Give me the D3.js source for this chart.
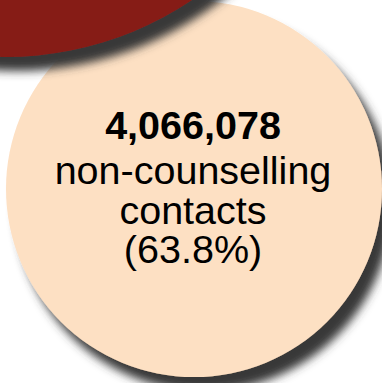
<!DOCTYPE html>
<html>
<head>
<meta charset="utf-8">
<script src="https://cdn.jsdelivr.net/npm/d3@7"></script>
<style>
  html, body { margin: 0; padding: 0; background: #ffffff; overflow: hidden; }
  svg { display: block; }
</style>
</head>
<body>
<script>
// Contact breakdown shown as overlapping bubbles
const bubbleNames  = ["counselling contacts", "non-counselling contacts"];
const bubbleCounts = [2307085, 4066078];
const bubbleShares = [36.2, 63.8];
const bubbleColors = ["#861a12", "#fde0c3"];
const labelledBubble = 1;

const W = 382, H = 383;

// layout: each bubble's centre and radius (pixels)
const layout = [
  { cx: 5,   cy: -279, r: 336 },
  { cx: 194, cy: 189,  r: 188 }
];

const svg = d3.select("body").append("svg")
  .attr("width", W)
  .attr("height", H);

const defs = svg.append("defs");
defs.append("filter")
  .attr("id", "bubble-shadow")
  .attr("x", "-20%").attr("y", "-20%")
  .attr("width", "140%").attr("height", "140%")
  .append("feDropShadow")
  .attr("dx", 10).attr("dy", 14)
  .attr("stdDeviation", 5)
  .attr("flood-color", "#383838")
  .attr("flood-opacity", 1);

const bubbles = bubbleNames.map((name, i) => ({
  name,
  count: bubbleCounts[i],
  share: bubbleShares[i],
  color: bubbleColors[i],
  ...layout[i]
}));

// draw the labelled bubble first so the other one sits on top of it
const order = [1, 0];
svg.selectAll("circle.bubble")
  .data(order.map(i => bubbles[i]))
  .join("circle")
  .attr("class", "bubble")
  .attr("cx", d => d.cx)
  .attr("cy", d => d.cy)
  .attr("r", d => d.r)
  .attr("fill", d => d.color)
  .attr("filter", "url(#bubble-shadow)");

// centred label of the non-counselling bubble
const b = bubbles[labelledBubble];
const fmtCount = d3.format(",");
const fmtShare = d3.format(".1f");
const words = b.name.split(" ");
const lines = [
  { text: fmtCount(b.count), weight: "bold", y: 139 },
  { text: words[0], weight: "normal", y: 184 },
  { text: words.slice(1).join(" "), weight: "normal", y: 224 },
  { text: "(" + fmtShare(b.share) + "%)", weight: "normal", y: 263 }
];

svg.append("g")
  .attr("class", "bubble-label")
  .selectAll("text")
  .data(lines)
  .join("text")
  .attr("x", 193)
  .attr("y", d => d.y)
  .attr("text-anchor", "middle")
  .attr("font-family", "'Liberation Sans', Arial, Helvetica, sans-serif")
  .attr("font-weight", d => d.weight)
  .attr("font-size", 39.5)
  .attr("fill", "#000")
  .text(d => d.text);
</script>
</body>
</html>
